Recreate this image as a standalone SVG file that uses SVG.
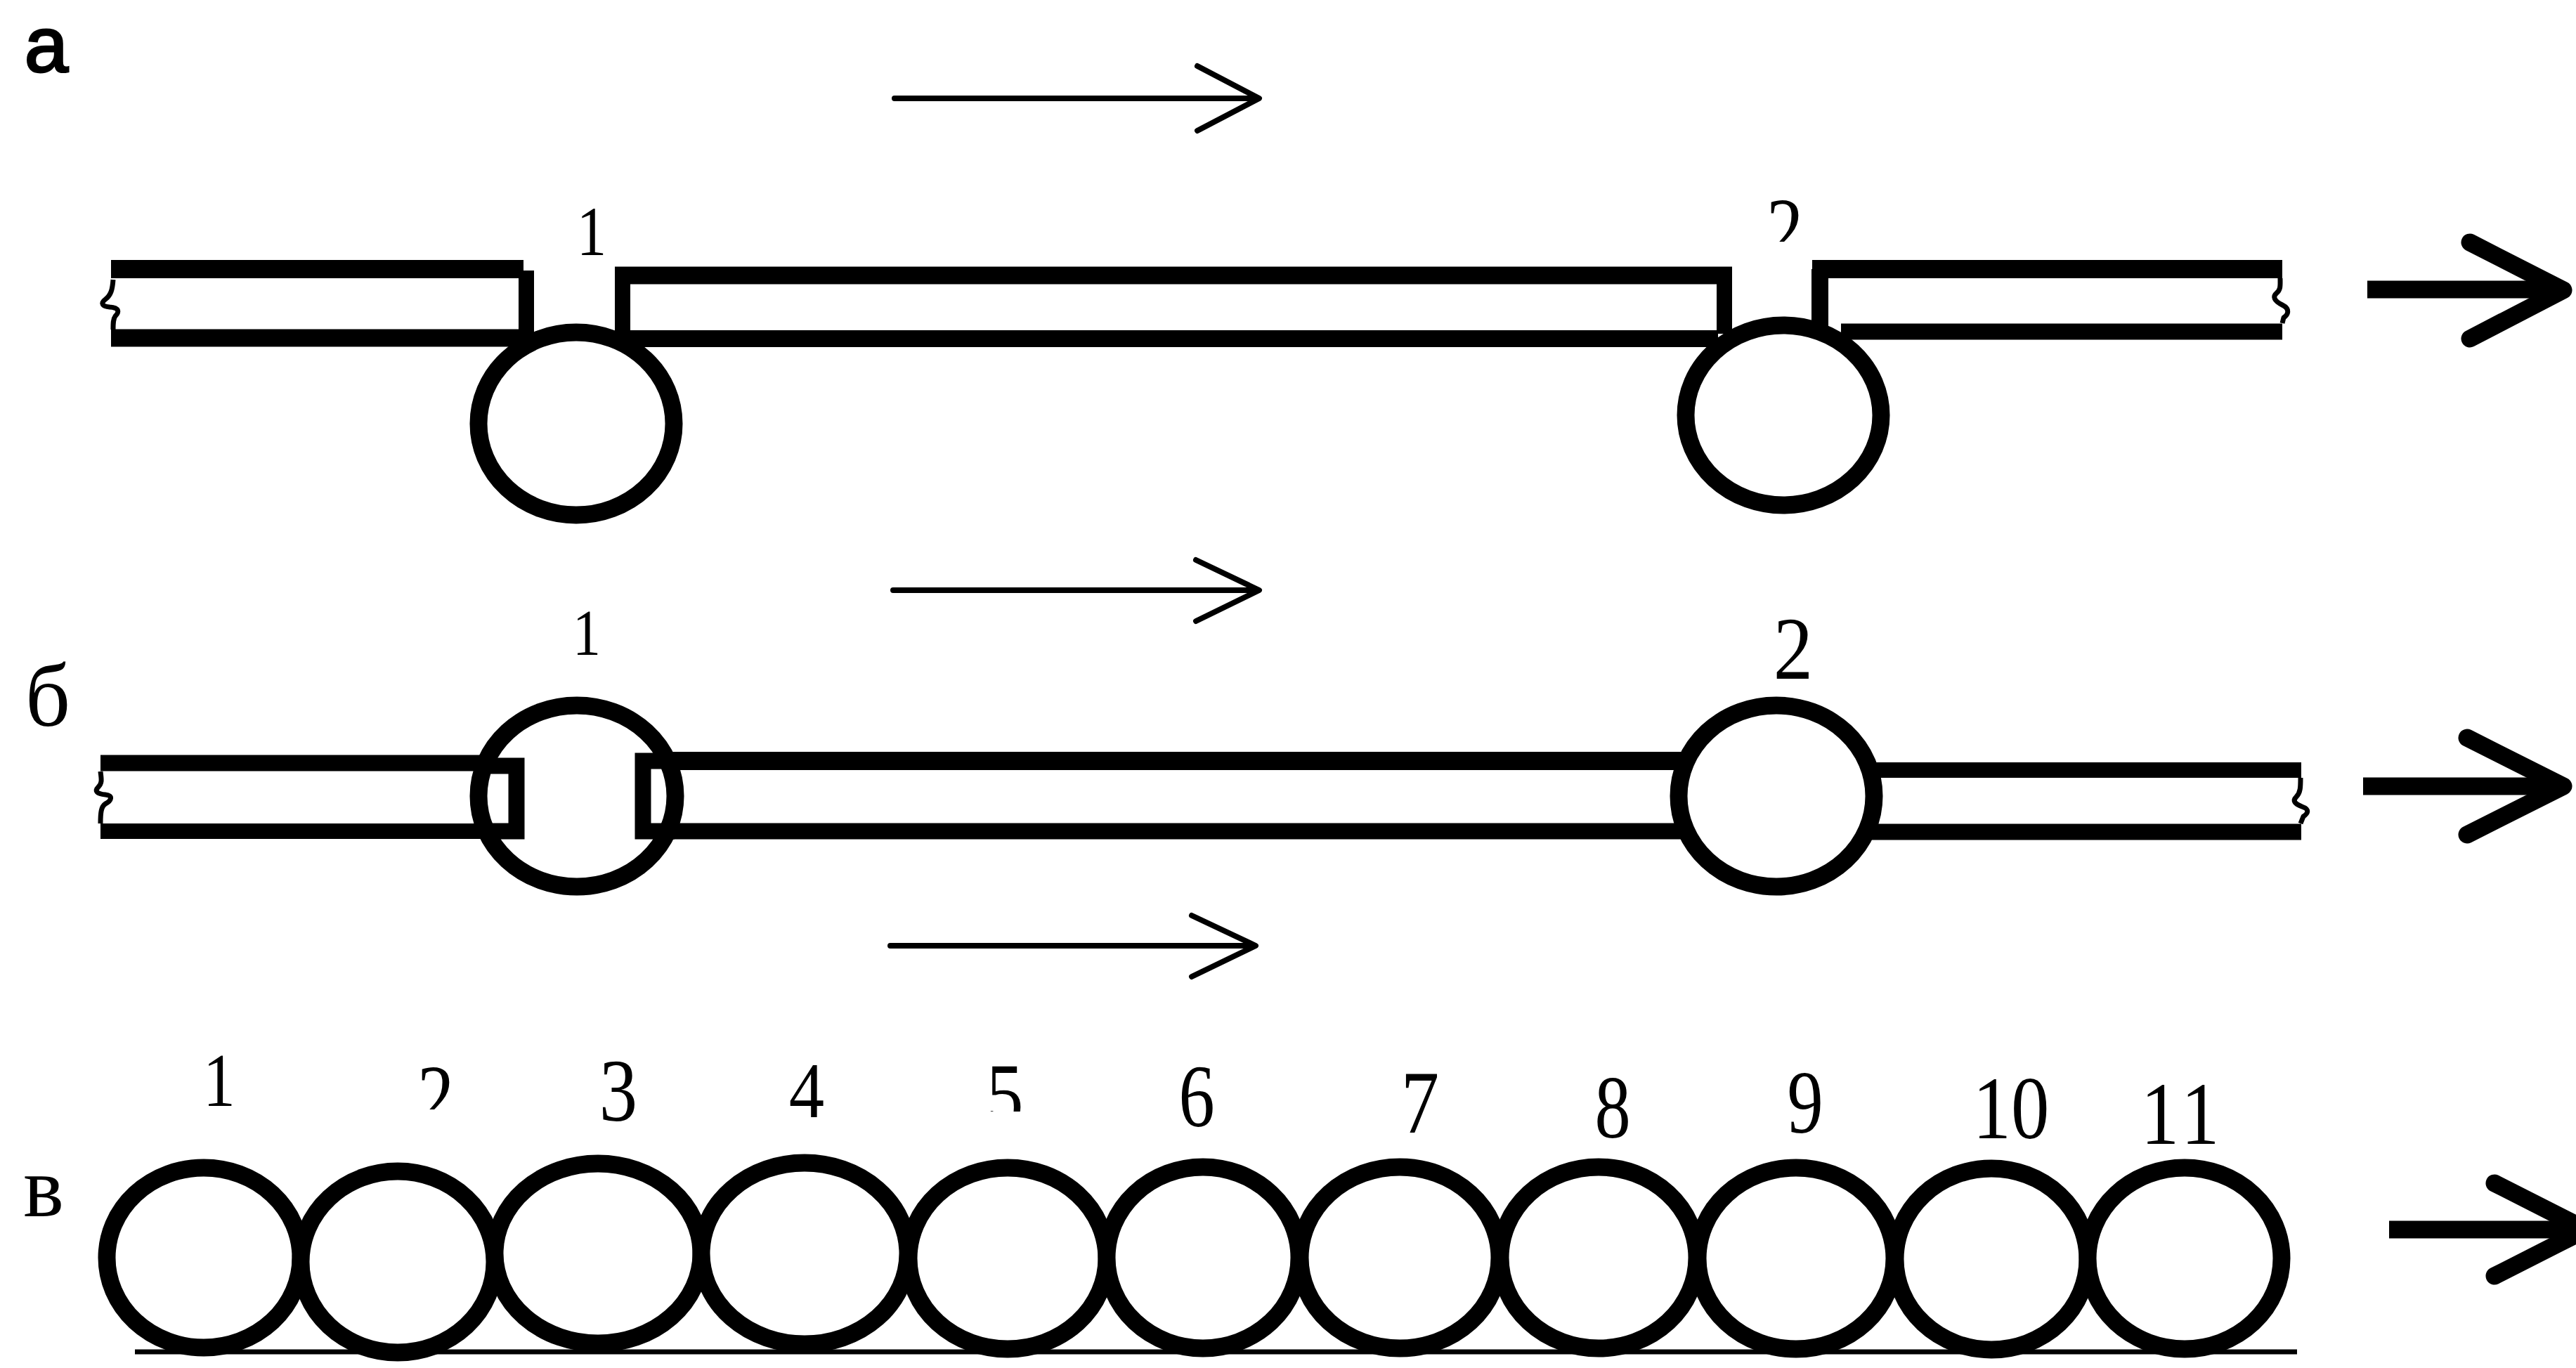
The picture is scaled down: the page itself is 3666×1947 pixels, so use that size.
<svg xmlns="http://www.w3.org/2000/svg" width="3666" height="1947" viewBox="0 0 3666 1947">
<style>
.t{font-family:"Liberation Serif","Times New Roman",serif;fill:#000;text-anchor:middle}
.w{fill:none;stroke:#000;stroke-linejoin:miter;stroke-linecap:butt}
.c{fill:#fff;stroke:#000;stroke-width:25}
.z{fill:none;stroke:#000;stroke-width:7;stroke-linejoin:round}
.thin{fill:none;stroke:#000;stroke-width:8;stroke-linecap:round;stroke-linejoin:round}
.thick{fill:none;stroke:#000;stroke-width:25;stroke-linejoin:round}
.head{stroke-linecap:round}
</style>
<defs>
<clipPath id="clipA2"><rect x="2480" y="240" width="120" height="104"/></clipPath>
<clipPath id="clipC2"><rect x="570" y="1480" width="100" height="99"/></clipPath>
<clipPath id="clipC5"><rect x="1390" y="1480" width="80" height="102"/></clipPath>
</defs>
<rect width="3666" height="1947" fill="#fff"/>
<g id="flow-arrows">
<path class="thin" d="M1273 140H1790M1704 94L1792 140L1704 186"/>
<path class="thin" d="M1271 840H1790M1702 797L1792 840L1702 884"/>
<path class="thin" d="M1267 1346H1785M1696 1303L1787 1346L1696 1390"/>
</g>
<g id="result-arrows">
<path class="thick" d="M3369 412H3640"/><path class="thick head" d="M3515 345L3648 413L3515 482"/>
<path class="thick" d="M3363 1119H3640"/><path class="thick head" d="M3511 1050L3648 1119L3511 1188"/>
<path class="thick" d="M3400 1750H3660"/><path class="thick head" d="M3550 1684L3680 1750L3550 1816"/>
</g>
<g id="row-a">
<g id="a-tube">
<path class="w" stroke-width="26" d="M158 383H745"/>
<path class="w" stroke-width="25" d="M158 481H745"/>
<path class="w" stroke-width="22" d="M749 385V485"/>
<path class="w" stroke-width="22" d="M886 380V485"/>
<path class="w" stroke-width="25" d="M875 392H2465"/>
<path class="w" stroke-width="24" d="M885 482H2445"/>
<path class="w" stroke-width="22" d="M2454 380V475"/>
<path class="w" stroke-width="24" d="M2590 383V470"/>
<path class="w" stroke-width="26" d="M2579 383H3248"/>
<path class="w" stroke-width="23" d="M2620 472H3248"/>
<path class="z" d="M161 398C160 412 158 420 150 426C142 432 146 436 156 437C170 438 170 444 164 450C161 454 161 460 161 469"/>
<path class="z" d="M3245 396C3245 406 3246 412 3240 417C3234 422 3236 428 3248 434C3260 440 3256 448 3250 452L3248 460"/>
</g>
<ellipse id="a-cell-1" class="c" cx="820" cy="603" rx="139" ry="130"/>
<ellipse id="a-cell-2" class="c" cx="2538" cy="591" rx="139" ry="128"/>
</g>
<g id="row-b">
<g id="b-tube">
<path class="w" stroke-width="23" d="M143 1086H700"/>
<path class="w" stroke-width="22" d="M143 1183H700"/>
<path class="w" stroke-width="26" d="M950 1083H2400"/>
<path class="w" stroke-width="23" d="M950 1183H2400"/>
<path class="w" stroke-width="22" d="M2660 1096H3275"/>
<path class="w" stroke-width="23" d="M2660 1184H3275"/>
<path class="z" d="M143 1098C144 1108 146 1114 140 1120C134 1126 138 1130 150 1131C162 1132 158 1140 150 1144C144 1148 143 1156 143 1172"/>
<path class="z" d="M3274 1107C3274 1120 3274 1128 3268 1134C3262 1140 3266 1144 3276 1148C3288 1152 3284 1158 3278 1162L3274 1172"/>
</g>
<ellipse id="b-cell-1" class="c" cx="821" cy="1133" rx="140" ry="129"/>
<ellipse id="b-cell-2" class="c" cx="2528" cy="1133" rx="139" ry="129"/>
<path id="b-stub-left" class="w" stroke-width="23" d="M690 1090H735V1183H690"/>
<path id="b-stub-right" class="w" stroke-width="23" d="M960 1083H915V1183H960"/>
</g>
<g id="row-c">
<path id="c-ground" class="w" stroke-width="7" d="M192 1924H3269"/>
<ellipse id="c-1" class="c" cx="290" cy="1790" rx="138" ry="128"/>
<ellipse id="c-2" class="c" cx="566" cy="1796" rx="138" ry="129"/>
<ellipse id="c-3" class="c" cx="851" cy="1784" rx="147" ry="128"/>
<ellipse id="c-4" class="c" cx="1145" cy="1784" rx="147" ry="129"/>
<ellipse id="c-5" class="c" cx="1434" cy="1791" rx="141" ry="129"/>
<ellipse id="c-6" class="c" cx="1712" cy="1790" rx="137" ry="129"/>
<ellipse id="c-7" class="c" cx="1992" cy="1790" rx="142" ry="129"/>
<ellipse id="c-8" class="c" cx="2275" cy="1790" rx="140" ry="129"/>
<ellipse id="c-9" class="c" cx="2556" cy="1791" rx="140" ry="129"/>
<ellipse id="c-10" class="c" cx="2834" cy="1792" rx="137" ry="129"/>
<ellipse id="c-11" class="c" cx="3109" cy="1791" rx="138" ry="129"/>
</g>
<g id="labels">
<text x="66" y="102" font-size="112" font-family="'Liberation Sans',Arial,sans-serif" text-anchor="middle" fill="#000" stroke="#000" stroke-width="3">а</text>
<text class="t" x="68" y="1033" font-size="126">б</text>
<text class="t" x="62" y="1731" font-size="122">в</text>
<text class="t" transform="translate(842 363) scale(.85 1)" font-size="100">1</text>
<g clip-path="url(#clipA2)"><text class="t" transform="translate(2540 368) scale(.85 1)" font-size="124">2</text></g>
<text class="t" transform="translate(835 932) scale(.85 1)" font-size="94">1</text>
<text class="t" transform="translate(2552 966) scale(.88 1)" font-size="128">2</text>
<text class="t" transform="translate(312 1574) scale(.85 1)" font-size="108">1</text>
<g clip-path="url(#clipC2)"><text class="t" transform="translate(620 1602) scale(.85 1)" font-size="124">2</text></g>
<text class="t" transform="translate(880 1595) scale(.85 1)" font-size="128">3</text>
<text class="t" transform="translate(1148 1590) scale(.9 1)" font-size="112">4</text>
<g clip-path="url(#clipC5)"><text class="t" transform="translate(1430 1600) scale(.85 1)" font-size="124">5</text></g>
<text class="t" transform="translate(1703 1603) scale(.8 1)" font-size="128">6</text>
<text class="t" transform="translate(2021 1612) scale(.85 1)" font-size="128">7</text>
<text class="t" transform="translate(2295 1619) scale(.8 1)" font-size="128">8</text>
<text class="t" transform="translate(2569 1612) scale(.8 1)" font-size="128">9</text>
<text class="t" transform="translate(2862 1620) scale(.85 1)" font-size="128">10</text>
<text class="t" transform="translate(3106 1628) scale(.85 1)" font-size="128" letter-spacing="8">11</text>
</g>
</svg>
